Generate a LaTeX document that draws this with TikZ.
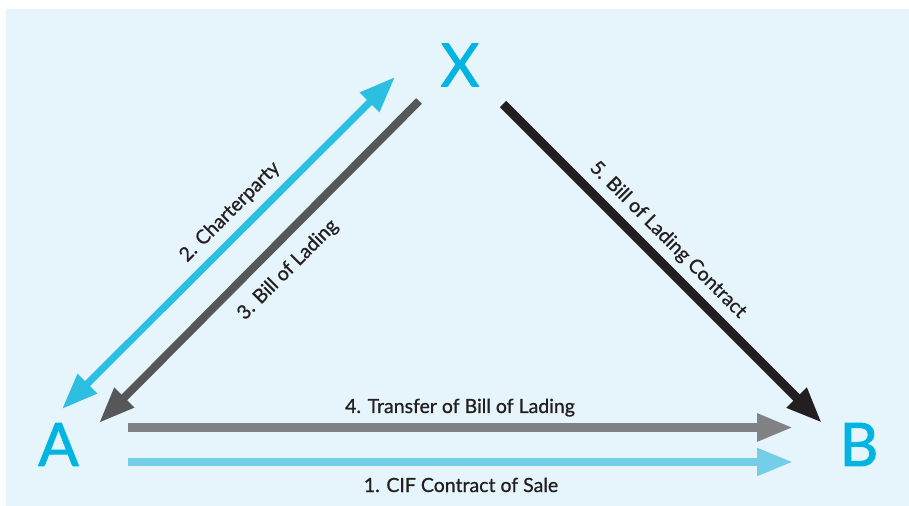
\documentclass[tikz,border=0pt]{standalone}
\usepackage{fontspec}
\setmainfont{Lato}
\newfontfamily\labelfont[FakeBold=0.8]{Lato}
\newfontfamily\letterfont[FakeBold=1.5]{Lato}
\usepackage{tikz}
\usetikzlibrary{arrows.meta}

\definecolor{bgblue}{RGB}{230,245,251}
\definecolor{lettercyan}{RGB}{0,181,226}
\definecolor{chartercyan}{RGB}{44,191,226}
\definecolor{salecyan}{RGB}{116,206,232}
\definecolor{transfergray}{RGB}{128,130,133}
\definecolor{ladinggray}{RGB}{85,87,89}
\definecolor{contractblack}{RGB}{35,31,32}

\begin{document}
\begin{tikzpicture}[>={Triangle[length=36bp,width=26bp]},line join=bevel,
  letter/.style={inner sep=0pt,text=lettercyan,font=\letterfont\fontsize{60bp}{60bp}\selectfont},
  caption/.style={inner sep=0pt,text=contractblack,font=\labelfont\fontsize{19.5bp}{22bp}\selectfont},
  link/.style={->,line cap=butt}]
%%
\useasboundingbox (0bp,0bp) rectangle (909bp,506bp);
\fill [bgblue] (6bp,0bp) rectangle (909bp,497bp);
%
\node (node_x) at (460bp,441bp) [letter] {X};
  \node (node_a) at (58.5bp,61.5bp) [letter] {A};
  \node (node_b) at (859bp,61.5bp) [letter] {B};
%
\coordinate (charter_a) at (62bp,97bp);
  \coordinate (charter_x) at (395bp,429bp);
  \coordinate (lading_x) at (419bp,405bp);
  \coordinate (lading_a) at (99bp,83bp);
  \coordinate (contract_x) at (503bp,402bp);
  \coordinate (contract_b) at (822bp,83bp);
  \coordinate (transfer_a) at (128bp,78.5bp);
  \coordinate (transfer_b) at (793bp,78.5bp);
  \coordinate (sale_a) at (128bp,44bp);
  \coordinate (sale_b) at (793bp,44bp);
%
\draw [link,<->,chartercyan,line width=7bp] (charter_a) -- (charter_x);
  \draw [link,ladinggray,line width=8bp] (lading_x) -- (lading_a);
  \draw [link,contractblack,line width=9bp] (contract_x) -- (contract_b);
  \draw [link,transfergray,line width=8.5bp] (transfer_a) -- (transfer_b);
  \draw [link,salecyan,line width=8bp] (sale_a) -- (sale_b);
%
\node (label_2) at (230bp,294bp) [caption,rotate=45] {2. Charterparty};
  \node (label_3) at (288bp,236bp) [caption,rotate=45] {3. Bill of Lading};
  \node (label_5) at (668bp,266bp) [caption,rotate=-45] {5. Bill of Lading Contract};
  \node (label_4) at (460bp,93bp) [caption,anchor=base] {4. Transfer of Bill of Lading};
  \node (label_1) at (461bp,14bp) [caption,anchor=base] {1. CIF Contract of Sale};
%
\end{tikzpicture}
\end{document}
